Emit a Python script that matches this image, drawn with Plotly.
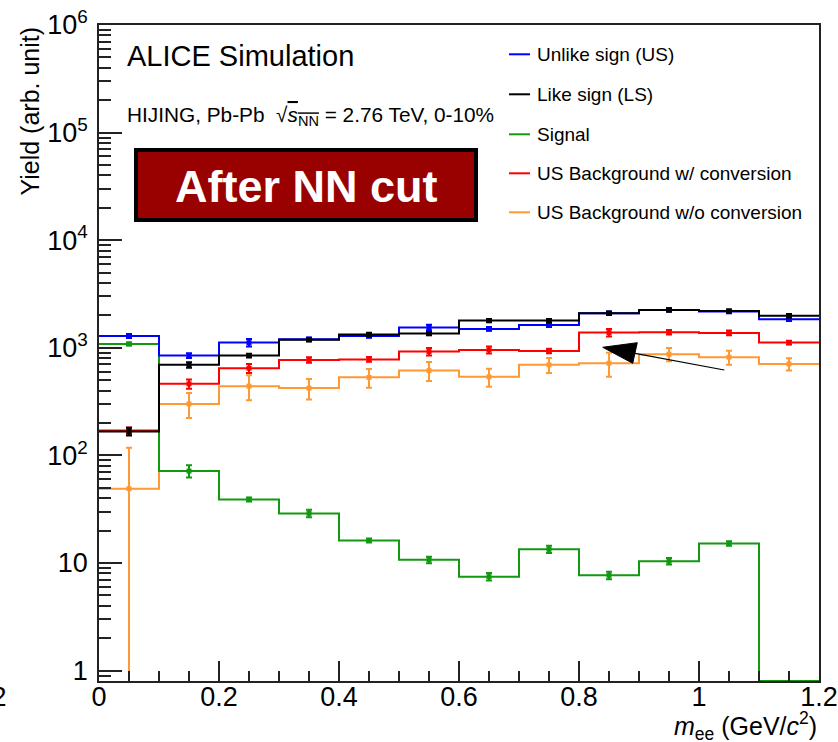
import math
import plotly.graph_objects as go

# m_ee binning (GeV/c^2)
bin_edges = [0.0, 0.1, 0.2, 0.3, 0.4, 0.5, 0.6, 0.7, 0.8, 0.9, 1.0, 1.1, 1.2]

# Yields per bin and their statistical errors
unlike_sign = [1289, 847, 1117, 1202, 1290, 1546, 1497, 1632, 2095, 2249, 2170, 1844]
unlike_sign_err = [55, 45, 90, 45, 50, 90, 60, 70, 80, 80, 80, 70]

like_sign = [167, 694, 847, 1190, 1327, 1355, 1790, 1790, 2095, 2249, 2200, 1986]
like_sign_err = [14, 40, 35, 45, 50, 50, 60, 60, 70, 70, 70, 70]

signal = [1087, 71.5, 39, 28.9, 16.2, 10.7, 7.46, 13.4, 7.67, 10.4, 15.2, 0]
signal_err = [35, 9.3, 1.7, 2.3, 0.7, 0.75, 0.6, 1.05, 0.6, 0.72, 0.75, 0]

bkg_conv = [170, 462, 646, 772, 780, 922, 956, 936, 1384, 1396, 1375, 1117]
bkg_conv_err = [12, 46, 62, 46, 40, 75, 70, 45, 110, 70, 70, 45]

bkg_noconv = [49, 301, 440, 422, 531, 614, 537, 694, 719, 872, 818, 708]
bkg_noconv_err = [69, 78, 115, 92, 105, 123, 102, 111, 180, 122, 123, 92]

legend_labels = [
    "Unlike sign (US)",
    "Like sign (LS)",
    "Signal",
    "US Background w/ conversion",
    "US Background w/o conversion",
]

y_tick_vals = [1, 10, 100, 1e3, 1e4, 1e5, 1e6]
y_tick_text = ["1", "10", "10<sup>2</sup>", "10<sup>3</sup>", "10<sup>4</sup>",
               "10<sup>5</sup>", "10<sup>6</sup>"]
x_tick_vals = [0, 0.2, 0.4, 0.6, 0.8, 1.0, 1.2]
x_tick_text = ["0", "0.2", "0.4", "0.6", "0.8", "1", "1.2"]

BLUE = "#0000ff"
BLACK = "#000000"
GREEN = "#119911"
RED = "#ff0000"
ORANGE = "#ff9933"

FONT = "Liberation Sans, Arial, Helvetica, sans-serif"
W, H = 838, 742
L, R, T, B = 99, 819, 25, 681          # frame in pixels
Y_LOG_MIN, Y_LOG_MAX = math.log10(0.8), 6.0


def px(xp):
    return (xp - L) / (R - L)


def py(yp):
    return (B - yp) / (B - T)


floor = 10 ** Y_LOG_MIN
centers = [(a + b) / 2 for a, b in zip(bin_edges[:-1], bin_edges[1:])]

series = [
    # (values, errors, colour) in drawing order: bottom to top
    (bkg_noconv, bkg_noconv_err, ORANGE),
    (bkg_conv, bkg_conv_err, RED),
    (signal, signal_err, GREEN),
    (unlike_sign, unlike_sign_err, BLUE),
    (like_sign, like_sign_err, BLACK),
]

fig = go.Figure()
for vals, errs, col in series:
    # histogram outline; empty bins sit on the frame floor
    shown = [v if v > 0 else floor for v in vals]
    fig.add_trace(go.Scatter(
        x=bin_edges, y=shown + [shown[-1]], mode="lines",
        line=dict(color=col, width=2, shape="hv"),
        hoverinfo="skip", showlegend=False, cliponaxis=True))
    cx = [c for c, v in zip(centers, vals) if v > 0]
    cy = [v for v in vals if v > 0]
    ce = [e for e, v in zip(errs, vals) if v > 0]
    fig.add_trace(go.Scatter(
        x=cx, y=cy, mode="markers",
        marker=dict(symbol="square", size=5, color=col),
        error_y=dict(type="data", array=ce, visible=True,
                     color=col, thickness=2, width=3),
        showlegend=False, cliponaxis=True))

shapes = []
annotations = []

# Legend drawn as line samples plus labels
legend_colors = [BLUE, BLACK, GREEN, RED, ORANGE]
legend_rows = [54.3, 94.3, 134.3, 173.3, 212.3]
for lab, col, yr in zip(legend_labels, legend_colors, legend_rows):
    shapes.append(dict(type="line", xref="paper", yref="paper",
                       x0=px(509), x1=px(530), y0=py(yr), y1=py(yr),
                       line=dict(color=col, width=2)))
    annotations.append(dict(text=lab, xref="paper", yref="paper",
                            x=px(535), y=py(yr), xanchor="left", yanchor="middle",
                            showarrow=False, font=dict(size=19, color="black", family=FONT)))

annotations.append(dict(text="ALICE Simulation", xref="paper", yref="paper",
                        x=px(125), y=py(56), xanchor="left", yanchor="middle",
                        showarrow=False, font=dict(size=29, color="black", family=FONT)))
annotations.append(dict(
    text="HIJING, Pb-Pb  √<span style='text-decoration:overline'><i>s</i><sub>NN</sub></span> = 2.76 TeV, 0-10%",
    xref="paper", yref="paper", x=px(125), y=py(116), xanchor="left", yanchor="middle",
    showarrow=False, font=dict(size=20.8, color="black", family=FONT)))

# "After NN cut" banner
shapes.append(dict(type="rect", xref="paper", yref="paper",
                   x0=px(136), x1=px(476), y0=py(220), y1=py(150),
                   fillcolor="#990000", line=dict(color="black", width=4)))
annotations.append(dict(text="<b>After NN cut</b>", xref="paper", yref="paper",
                        x=px(306), y=py(186), xanchor="center", yanchor="middle",
                        showarrow=False, font=dict(size=45, color="white", family=FONT)))

# Arrow
shapes.append(dict(type="line", xref="paper", yref="paper",
                   x0=px(724.3), y0=py(370), x1=px(635), y1=py(353.4),
                   line=dict(color="black", width=1.2)))
shapes.append(dict(type="path", xref="paper", yref="paper",
                   path="M {:.4f} {:.4f} L {:.4f} {:.4f} L {:.4f} {:.4f} Z".format(
                       px(602.7), py(347.3), px(637.3), py(342.7), px(632.7), py(363.3)),
                   fillcolor="black", line=dict(color="black", width=1)))

# Axis titles
annotations.append(dict(text="Yield (arb. unit)", xref="paper", yref="paper",
                        x=px(29), y=1.0, xanchor="center", yanchor="top", textangle=-90,
                        showarrow=False, font=dict(size=25, color="black", family=FONT)))
annotations.append(dict(text="<i>m</i><sub>ee</sub> (GeV/<i>c</i><sup>2</sup>)",
                        xref="paper", yref="paper", x=1.0, y=py(726),
                        xanchor="right", yanchor="middle",
                        showarrow=False, font=dict(size=25, color="black", family=FONT)))
# neighbouring panel's last tick label
annotations.append(dict(text="1.2", xref="paper", yref="paper", x=px(9), y=py(697),
                        xanchor="right", yanchor="middle", showarrow=False,
                        font=dict(size=27, color="black", family=FONT)))

y_minor = [0.9] + [m * 10 ** k for k in range(0, 6) for m in range(2, 10)]
x_minor = [round(0.05 * i, 2) for i in range(25)]

fig.update_layout(
    width=W, height=H,
    margin=dict(l=L, r=W - R, t=T, b=H - B, pad=0, autoexpand=False),
    paper_bgcolor="white", plot_bgcolor="white",
    showlegend=False,
    shapes=shapes, annotations=annotations,
    font=dict(family=FONT, color="black"),
    xaxis=dict(range=[0, 1.2], showgrid=False, zeroline=False, automargin=False,
               showline=True, linecolor="#222", linewidth=1.5, mirror=True,
               tickmode="array", tickvals=x_tick_vals, ticktext=x_tick_text,
               ticks="inside", ticklen=20, tickwidth=1.5, tickcolor="#222",
               ticklabelstandoff=-9,
               tickfont=dict(size=27, family=FONT, color="black"),
               minor=dict(tickmode="array", tickvals=x_minor, ticks="inside",
                          ticklen=10, tickwidth=1.5, tickcolor="#222", showgrid=False)),
    yaxis=dict(type="log", range=[Y_LOG_MIN, Y_LOG_MAX], showgrid=False, zeroline=False,
               automargin=False,
               showline=True, linecolor="#222", linewidth=1.5, mirror=True,
               tickmode="array", tickvals=y_tick_vals, ticktext=y_tick_text,
               ticks="inside", ticklen=23, tickwidth=1.5, tickcolor="#222",
               ticklabelstandoff=4,
               tickfont=dict(size=27, family=FONT, color="black"),
               minor=dict(tickmode="array", tickvals=y_minor, ticks="inside",
                          ticklen=12, tickwidth=1.5, tickcolor="#222", showgrid=False)),
)

fig.write_html("out.html")
